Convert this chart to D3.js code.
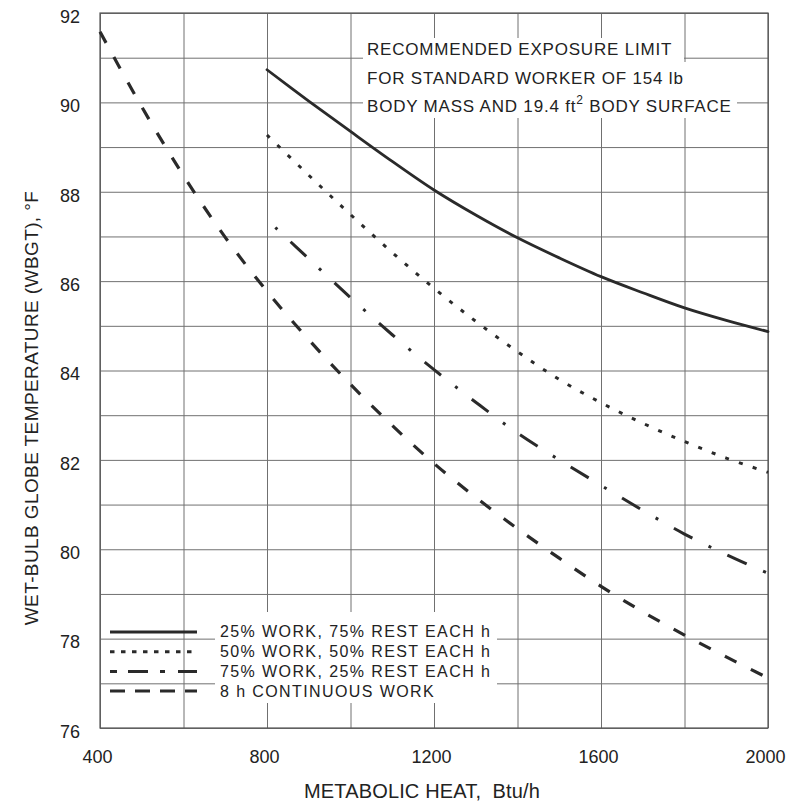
<!DOCTYPE html>
<html>
<head lang="en">
    <meta charset="UTF-8">
    <title>WBGT exposure limits</title>
    <script src="https://d3js.org/d3.v7.min.js" charset="utf-8"></script>
    <style type="text/css">
        body { margin: 0; background: #fff; }
        svg text { font-family: "Liberation Sans", Arial, sans-serif; fill: #222; }
    </style>
</head>
<body>

<svg id="svg" width="800" height="809"></svg>

<script>
    // metabolic heat (Btu/h) and WBGT (deg F)
    var heat25 = [800, 900, 1000, 1100, 1200, 1300, 1400, 1500, 1600, 1700, 1800, 1900, 2000];
    var wbgt25 = [90.73, 90.03, 89.35, 88.68, 88.04, 87.48, 86.97, 86.52, 86.1, 85.74, 85.4, 85.12, 84.87];

    var heat50 = [800, 900, 1000, 1100, 1200, 1300, 1400, 1500, 1600, 1700, 1800, 1900, 2000];
    var wbgt50 = [89.27, 88.37, 87.49, 86.64, 85.84, 85.1, 84.42, 83.8, 83.28, 82.82, 82.41, 82.04, 81.72];

    var heat75 = [820, 900, 1000, 1100, 1200, 1300, 1400, 1500, 1600, 1700, 1800, 1900, 2000];
    var wbgt75 = [87.2, 86.5, 85.63, 84.8, 84.02, 83.29, 82.6, 82.0, 81.43, 80.87, 80.34, 79.88, 79.46];

    var heat100 = [400, 500, 600, 700, 800, 900, 1000, 1100, 1200, 1300, 1400, 1500, 1600, 1700, 1800, 1900, 2000];
    var wbgt100 = [91.58, 89.9, 88.36, 86.98, 85.77, 84.69, 83.69, 82.77, 81.92, 81.16, 80.46, 79.8, 79.17, 78.6, 78.08, 77.59, 77.12];

    var seriesNames = ["25% WORK, 75% REST EACH h", "50% WORK, 50% REST EACH h",
        "75% WORK, 25% REST EACH h", "8 h CONTINUOUS WORK"];

    var xTicks = [400, 800, 1200, 1600, 2000];
    var yTicks = [76, 78, 80, 82, 84, 86, 88, 90, 92];

    var noteLines = ["RECOMMENDED EXPOSURE LIMIT", "FOR STANDARD WORKER OF 154 lb", "BODY MASS AND 19.4 ft"];

    var xTitle = "METABOLIC HEAT,  Btu/h";
    var yTitle = "WET-BULB GLOBE TEMPERATURE (WBGT), \u00b0F";
</script>

<script>
    var svg = d3.select("svg");

    var plotLeft = 100, plotTop = 13, plotRight = 768, plotBottom = 728;

    var x = d3.scaleLinear().domain([400, 2000]).range([plotLeft, plotRight]);
    var y = d3.scaleLinear().domain([76, 92]).range([plotBottom, plotTop]);

    var ink = "#2a2a2a";
    var gridColor = "#707070";

    // grid, one line per 200 Btu/h and per degree
    svg.append("g")
            .attr("transform", "translate(0," + plotBottom + ")")
            .call(d3.axisBottom(x).tickValues(d3.range(400, 2001, 200)).tickSize(-(plotBottom - plotTop)).tickFormat(""))
            .call(function (g) {
                g.select(".domain").remove();
                g.selectAll("line").attr("stroke", gridColor).attr("stroke-width", 1);
            });

    svg.append("g")
            .attr("transform", "translate(" + plotLeft + ",0)")
            .call(d3.axisLeft(y).tickValues(d3.range(76, 93, 1)).tickSize(-(plotRight - plotLeft)).tickFormat(""))
            .call(function (g) {
                g.select(".domain").remove();
                g.selectAll("line").attr("stroke", gridColor).attr("stroke-width", 1);
            });

    svg.append("rect")
            .attr("x", plotLeft).attr("y", plotTop)
            .attr("width", plotRight - plotLeft).attr("height", plotBottom - plotTop)
            .attr("fill", "none").attr("stroke", "#555").attr("stroke-width", 1.2);

    // white patches behind the note and the legend text
    svg.append("rect").attr("x", 363).attr("y", 38).attr("width", 321).attr("height", 80).attr("fill", "#fff");
    svg.append("rect").attr("x", 683).attr("y", 62).attr("width", 54).attr("height", 56).attr("fill", "#fff");
    svg.append("rect").attr("x", 215).attr("y", 612).attr("width", 282).attr("height", 91).attr("fill", "#fff");

    // tick labels
    svg.append("g")
            .attr("transform", "translate(" + plotLeft + ",0)")
            .call(d3.axisLeft(y).tickValues(yTicks).tickSize(0).tickPadding(20).tickFormat(d3.format("d")))
            .call(function (g) {
                g.select(".domain").remove();
                g.selectAll("text").attr("y", 3.5).style("font-size", "18px")
                        .style("font-family", "'Liberation Sans', Arial, sans-serif").attr("fill", "#222");
            });

    svg.append("g")
            .attr("transform", "translate(0," + plotBottom + ")")
            .call(d3.axisBottom(x).tickValues(xTicks).tickSize(0).tickPadding(22).tickFormat(d3.format("d")))
            .call(function (g) {
                g.select(".domain").remove();
                g.selectAll("text").attr("x", -3).style("font-size", "18px")
                        .style("font-family", "'Liberation Sans', Arial, sans-serif").attr("fill", "#222");
            });

    // axis titles
    svg.append("text")
            .attr("x", 422).attr("y", 798)
            .attr("text-anchor", "middle")
            .attr("xml:space", "preserve")
            .style("white-space", "pre")
            .style("font-size", "20px")
            .style("letter-spacing", "0.15px")
            .text(xTitle);

    svg.append("text")
            .attr("transform", "translate(38,408) rotate(-90)")
            .attr("text-anchor", "middle")
            .style("font-size", "19px")
            .style("letter-spacing", "0.4px")
            .text(yTitle);

    // curves
    var line = d3.line()
            .x(function (d) { return x(d[0]); })
            .y(function (d) { return y(d[1]); })
            .curve(d3.curveCatmullRom.alpha(0.5));

    var series = [
        {heat: heat25, wbgt: wbgt25, width: 2.8, dash: null, cap: "round"},
        {heat: heat50, wbgt: wbgt50, width: 3, dash: "4,10.5", cap: "butt"},
        {heat: heat75, wbgt: wbgt75, width: 3, dash: "3,18,21,18", cap: "butt"},
        {heat: heat100, wbgt: wbgt100, width: 3.2, dash: "13,16", cap: "butt"}
    ];

    series.forEach(function (s) {
        var pts = d3.zip(s.heat, s.wbgt);
        svg.append("path")
                .datum(pts)
                .attr("d", line)
                .attr("fill", "none")
                .attr("stroke", ink)
                .attr("stroke-width", s.width)
                .attr("stroke-linecap", s.cap)
                .attr("stroke-dasharray", s.dash);
    });

    // note
    var note = svg.append("g").style("font-size", "17px").style("letter-spacing", "0.8px");
    note.selectAll("text.note")
            .data(noteLines)
            .enter().append("text")
            .attr("class", "note")
            .attr("x", 367)
            .attr("y", function (d, i) { return 55 + i * 28.5; })
            .text(function (d) { return d; });
    var last = note.select("text.note:last-of-type");
    last.append("tspan").attr("dy", -8).style("font-size", "12px").text("2");
    last.append("tspan").attr("dy", 8).text(" BODY SURFACE");

    // legend
    var legendDash = [null, "4.5,6.5", "7,11,20,12,5,13,19", "15,10"];
    var legend = svg.append("g");
    seriesNames.forEach(function (name, i) {
        var ly = 632 + i * 19.7;
        legend.append("line")
                .attr("x1", 110).attr("x2", 197)
                .attr("y1", ly).attr("y2", ly)
                .attr("stroke", ink)
                .attr("stroke-width", i == 0 ? 2.8 : 3)
                .attr("stroke-dasharray", legendDash[i]);
        legend.append("text")
                .attr("x", 220).attr("y", ly + 3.5)
                .attr("dy", "0.12em")
                .style("font-size", "16px")
                .style("letter-spacing", "1.4px")
                .text(name);
    });
</script>

</body>
</html>
